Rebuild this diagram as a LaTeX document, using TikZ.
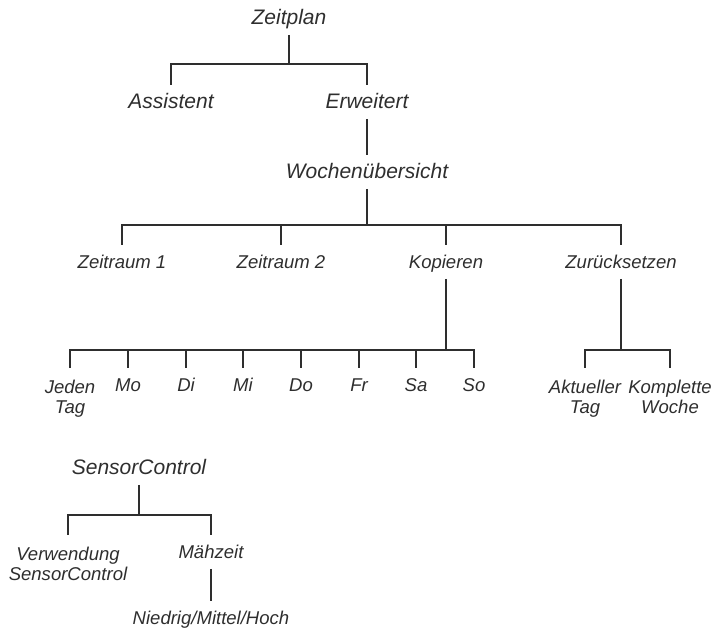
\documentclass[tikz,border=0pt]{standalone}
\usepackage{fontspec}
\setmainfont{Liberation Sans}
\usepackage{tikz}
\definecolor{ink}{HTML}{2E2E2E}
\tikzstyle{branch} = [draw=ink, line width=1.4pt]
\tikzstyle{headnode} = [text=ink, font=\fontsize{15.75}{18}\selectfont\itshape, inner xsep=0pt, inner ysep=7.5pt, text height=1em, text depth=0pt]
\tikzstyle{leafnode} = [text=ink, font=\fontsize{13.9}{15}\selectfont\itshape, inner xsep=0pt, inner ysep=7.5pt, text height=1em, text depth=0pt]
\tikzstyle{pairnode} = [text=ink, font=\fontsize{13.9}{15}\selectfont\itshape, inner xsep=0pt, inner ysep=9pt, align=center]

\begin{document}
\begin{tikzpicture}[x=0.75pt,y=-0.75pt]
	\useasboundingbox (0,0) rectangle (718,630);
	\node [headnode, anchor=south] (zeitplan) at (289,35) {Zeitplan};
	\node [headnode, anchor=north] (assistent) at (171,85) {Assistent};
	\node [headnode, anchor=north] (erweitert) at (367,85) {Erweitert};
	\node [headnode, anchor=north] (woche) at (367,155) {Wochenübersicht};
	\node [leafnode, anchor=north] (zeitraumA) at (122,245) {Zeitraum 1};
	\node [leafnode, anchor=north] (zeitraumB) at (281,245) {Zeitraum 2};
	\node [leafnode, anchor=north] (kopieren) at (446,245) {Kopieren};
	\node [leafnode, anchor=north] (reset) at (621,245) {Zurücksetzen};
	\node [pairnode, anchor=north] (Jeden) at (70,368) {Jeden\\Tag};
	\foreach \day/\xpos in {Mo/128, Di/186, Mi/243, Do/301, Fr/359, Sa/416, So/474}
		\node [leafnode, anchor=north] (\day) at (\xpos,368) {\day};
	\node [pairnode, anchor=north] (aktuell) at (585,368) {Aktueller\\Tag};
	\node [pairnode, anchor=north] (komplett) at (670,368) {Komplette\\Woche};
	\node [headnode, anchor=south] (sensor) at (139,485) {SensorControl};
	\node [pairnode, anchor=north] (verwendung) at (68,535) {Verwendung\\SensorControl};
	\node [leafnode, anchor=north] (mahzeit) at (211,535) {Mähzeit};
	\node [leafnode, anchor=north] (stufe) at (211,601) {Niedrig/Mittel/Hoch};

	\coordinate (b1) at (289,64);
	\coordinate (b2) at (367,225);
	\coordinate (b3) at (446,350);
	\coordinate (b4) at (621,350);
	\coordinate (b5) at (139,515);

	\draw [branch] (zeitplan.south) -- (b1);
	\draw [branch] (assistent.north) |- (b1) -| (erweitert.north);
	\draw [branch] (erweitert.south) -- (woche.north);
	\draw [branch] (woche.south) -- (b2);
	\draw [branch] (zeitraumA.north) |- (b2) -| (reset.north);
	\draw [branch] (zeitraumB.north) -- (zeitraumB.north |- b2);
	\draw [branch] (kopieren.north) -- (kopieren.north |- b2);
	\draw [branch] (kopieren.south) -- (b3);
	\draw [branch] (Jeden.north) |- (b3) -| (So.north);
	\foreach \day in {Mo, Di, Mi, Do, Fr, Sa}
		\draw [branch] (\day.north) -- (\day.north |- b3);
	\draw [branch] (reset.south) -- (b4);
	\draw [branch] (aktuell.north) |- (b4) -| (komplett.north);
	\draw [branch] (sensor.south) -- (b5);
	\draw [branch] (verwendung.north) |- (b5) -| (mahzeit.north);
	\draw [branch] (mahzeit.south) -- (stufe.north);
\end{tikzpicture}
\end{document}
